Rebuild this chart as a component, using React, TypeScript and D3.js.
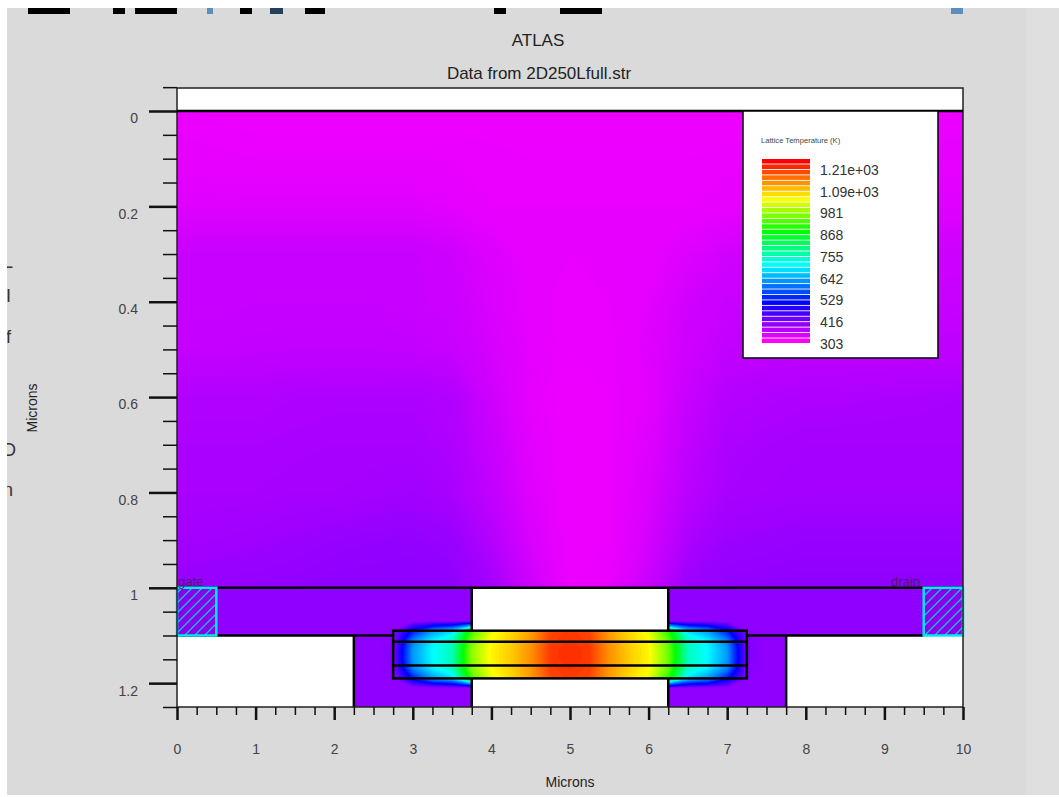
import React, { useEffect, useRef } from 'react';
import * as d3 from 'd3';

const W = 1059;
const H = 797;

// temperature colour ramp
const rampTemps = [303, 493, 684, 856, 1020, 1210];
const rampColors = ['#ff00ff', '#0000ff', '#00ffff', '#00ff00', '#ffff00', '#ff0000'];

const legendTicks = ['1.21e+03', '1.09e+03', '981', '868', '755', '642', '529', '416', '303'];
const legendLevels = [
  1210, 1182, 1155, 1127, 1100, 1072, 1045, 1017, 990, 962, 935, 907, 880, 852, 825, 797, 770,
  742, 715, 687, 660, 632, 605, 577, 550, 522, 495, 467, 440, 412, 385, 357, 330, 303,
];

// upper layer: x = 0..10 step 0.5, y = 0..1 step 0.1
const upperX = [0, 10];
const upperY = [0, 1];
const upperTemps = [
  [318, 317, 316, 316, 316, 316, 316, 316, 316, 316, 316, 316, 316, 316, 316, 316, 316, 316, 316, 317, 318],
  [322, 321, 320, 320, 320, 320, 320, 320, 319, 318, 318, 318, 318, 318, 319, 320, 320, 320, 320, 321, 322],
  [328, 328, 328, 328, 328, 328, 328, 325, 320, 320, 320, 320, 320, 320, 322, 325, 325, 326, 328, 328, 328],
  [345, 345, 345, 345, 345, 345, 345, 340, 330, 322, 320, 322, 322, 330, 338, 342, 342, 342, 342, 342, 342],
  [345, 345, 346, 346, 346, 346, 345, 342, 332, 322, 318, 320, 325, 338, 345, 346, 346, 346, 346, 346, 346],
  [348, 348, 349, 350, 350, 350, 349, 346, 335, 325, 318, 320, 328, 340, 350, 351, 352, 352, 352, 352, 352],
  [362, 362, 362, 364, 365, 365, 365, 362, 340, 322, 316, 318, 325, 345, 360, 363, 365, 365, 366, 367, 368],
  [366, 366, 366, 367, 368, 368, 368, 364, 345, 325, 316, 318, 328, 350, 365, 368, 370, 370, 370, 370, 370],
  [368, 368, 368, 370, 370, 372, 374, 368, 350, 328, 316, 318, 332, 355, 368, 370, 372, 372, 372, 372, 372],
  [372, 374, 376, 379, 382, 384, 385, 380, 360, 332, 316, 318, 335, 365, 378, 380, 382, 382, 382, 382, 382],
  [382, 384, 385, 386, 388, 388, 388, 388, 372, 340, 318, 320, 345, 378, 386, 387, 388, 388, 388, 388, 388],
];

// device layer: x = 2.5..7.5 step 0.25, y = 1.07..1.21 step 0.02
const deviceX = [2.5, 7.5];
const deviceY = [1.07, 1.21];
const edgeRow = [385, 385, 385, 385, 385, 385, 385, 385, 385, 385, 385, 385, 385, 385, 385, 385, 385, 385, 385, 385, 385];
const skinRow = [385, 390, 510, 610, 660, 900, 1010, 1050, 1095, 1160, 1170, 1160, 1095, 1050, 1010, 880, 660, 610, 510, 395, 385];
const outerRow = [385, 395, 590, 675, 725, 940, 1025, 1058, 1100, 1165, 1175, 1165, 1100, 1058, 1025, 920, 725, 675, 590, 400, 385];
const coreRow = [385, 400, 610, 685, 735, 950, 1030, 1062, 1105, 1170, 1180, 1170, 1105, 1062, 1030, 930, 730, 685, 610, 405, 385];
const deviceTemps = [edgeRow, skinRow, outerRow, coreRow, coreRow, outerRow, skinRow, edgeRow];

const xTicks = [0, 1, 2, 3, 4, 5, 6, 7, 8, 9, 10];
const xMinor = [0.25, 0.5, 0.75, 1.25, 1.5, 1.75, 2.25, 2.5, 2.75, 3.25, 3.5, 3.75, 4.25, 4.5, 4.75, 5.25, 5.5, 5.75, 6.25, 6.5, 6.75, 7.25, 7.5, 7.75, 8.25, 8.5, 8.75, 9.25, 9.5, 9.75];
const yTicks = [0, 0.2, 0.4, 0.6, 0.8, 1, 1.2];
const yMinor = [-0.05, 0.05, 0.1, 0.15, 0.25, 0.3, 0.35, 0.45, 0.5, 0.55, 0.65, 0.7, 0.75, 0.85, 0.9, 0.95, 1.05, 1.1, 1.15, 1.25];

// structure outlines, in microns
const regionLines = [
  [[0, 1], [10, 1]],
  [[0, 1.1], [2.75, 1.1]],
  [[7.25, 1.1], [9.5, 1.1]],
  [[2.25, 1.1], [2.25, 1.25]],
  [[7.75, 1.1], [7.75, 1.25]],
  [[3.75, 1], [3.75, 1.09]],
  [[6.25, 1], [6.25, 1.09]],
  [[3.75, 1.19], [3.75, 1.25]],
  [[6.25, 1.19], [6.25, 1.25]],
  [[2.75, 1.113], [7.25, 1.113]],
  [[2.75, 1.163], [7.25, 1.163]],
];

// bits of other windows left in the screenshot
const topScraps = [
  [28, 42, '#000'], [113, 12, '#000'], [135, 42, '#000'], [207, 6, '#5d8fbd'], [240, 12, '#000'],
  [270, 13, '#24405c'], [305, 20, '#000'], [494, 12, '#000'], [560, 42, '#000'], [951, 12, '#5d8fbd'],
];
const sideScraps = [['L', 3, 268], ['I', 6, 302], ['f', 6, 343], ['D', 3, 456], ['n', 3, 496]];

export default function App() {
  const svgRef = useRef<SVGSVGElement | null>(null);

  useEffect(() => {
    const svg = d3.select(svgRef.current);
    svg.selectAll('*').remove();

    const x = d3.scaleLinear().domain([0, 10]).range([177, 963]);
    const y = d3.scaleLinear().domain([0, 1.25]).range([111, 707]);
    const top = y(-0.048);
    const color = d3.scaleLinear<string>().domain(rampTemps).range(rampColors).clamp(true);

    // page background
    svg.append('rect').attr('width', W).attr('height', H).attr('fill', '#fff');
    svg.append('rect').attr('x', 7).attr('y', 8).attr('width', W - 7).attr('height', 787).attr('fill', '#dadada');
    svg.append('rect').attr('x', 1027).attr('y', 8).attr('width', W - 1027).attr('height', 787).attr('fill', '#dfdfdf');

    svg.selectAll('.scrap').data(topScraps).enter().append('rect')
      .attr('class', 'scrap')
      .attr('x', (d) => d[0] as number)
      .attr('y', 8)
      .attr('width', (d) => d[1] as number)
      .attr('height', 6)
      .attr('fill', (d) => d[2] as string);

    const defs = svg.append('defs');
    defs.append('clipPath').attr('id', 'side').append('rect').attr('x', 7).attr('y', 0).attr('width', 10).attr('height', H);
    defs.append('clipPath').attr('id', 'upper').append('rect')
      .attr('x', x(0)).attr('y', y(0)).attr('width', x(10) - x(0)).attr('height', y(1) - y(0));
    const deviceClip = defs.append('clipPath').attr('id', 'device');
    [[2.25, 1, 3.75, 1.25], [6.25, 1, 7.75, 1.25], [2.75, 1.09, 7.25, 1.19]].forEach(([a, b, c, d]) => {
      deviceClip.append('rect').attr('x', x(a)).attr('y', y(b)).attr('width', x(c) - x(a)).attr('height', y(d) - y(b));
    });
    const hatch = defs.append('pattern').attr('id', 'hatch').attr('patternUnits', 'userSpaceOnUse')
      .attr('width', 10).attr('height', 10);
    hatch.append('rect').attr('width', 10).attr('height', 10).attr('fill', '#8a00e8');
    hatch.append('path').attr('d', 'M-2,2 L2,-2 M0,10 L10,0 M8,12 L12,8').attr('stroke', '#10c4f4').attr('stroke-width', 1.3);

    svg.append('g').attr('clip-path', 'url(#side)')
      .selectAll('text').data(sideScraps).enter().append('text')
      .attr('x', (d) => d[1] as number).attr('y', (d) => d[2] as number)
      .attr('font-family', 'Liberation Sans').attr('font-size', 18).attr('fill', '#333')
      .text((d) => d[0] as string);

    // plot area
    svg.append('rect').attr('x', x(0)).attr('y', top).attr('width', x(10) - x(0)).attr('height', y(1.25) - top).attr('fill', '#fff');

    const drawField = (temps: number[][], xr: number[], yr: number[], levels: number[], clip: string) => {
      const n = temps[0].length;
      const m = temps.length;
      const gx = d3.scaleLinear().domain([0.5, n - 0.5]).range(xr);
      const gy = d3.scaleLinear().domain([0.5, m - 0.5]).range(yr);
      const path = d3.geoPath(d3.geoTransform({
        point(px, py) {
          this.stream.point(x(gx(px)), y(gy(py)));
        },
      }));
      const contours = d3.contours().size([n, m]).smooth(true).thresholds(levels)(temps.flat());
      svg.append('g').attr('clip-path', `url(#${clip})`)
        .selectAll('path').data(contours).enter().append('path')
        .attr('d', path as any)
        .attr('fill', (d) => color(d.value));
    };

    // upper layer
    svg.append('rect').attr('x', x(0)).attr('y', y(0)).attr('width', x(10) - x(0)).attr('height', y(1) - y(0)).attr('fill', color(316));
    drawField(upperTemps, upperX, upperY, d3.range(316, 392, 2), 'upper');

    // side blocks and device
    const purple = color(386);
    [[0, 1, 3.75, 1.1], [6.25, 1, 10, 1.1], [2.25, 1.1, 3.75, 1.25], [6.25, 1.1, 7.75, 1.25], [2.75, 1.09, 7.25, 1.19]].forEach(([a, b, c, d]) => {
      svg.append('rect').attr('x', x(a)).attr('y', y(b)).attr('width', x(c) - x(a)).attr('height', y(d) - y(b)).attr('fill', purple);
    });
    drawField(deviceTemps, deviceX, deviceY, d3.range(388, 1200, 6), 'device');

    const line = d3.line().x((d) => x(d[0])).y((d) => y(d[1]));
    svg.append('g').selectAll('path').data(regionLines).enter().append('path')
      .attr('d', (d) => line(d as [number, number][]))
      .attr('fill', 'none').attr('stroke', '#000').attr('stroke-width', 2.5);
    svg.append('rect').attr('x', x(2.75)).attr('y', y(1.09)).attr('width', x(7.25) - x(2.75)).attr('height', y(1.19) - y(1.09))
      .attr('fill', 'none').attr('stroke', '#000').attr('stroke-width', 2.5);

    // electrodes
    [[0, 0.5], [9.5, 10]].forEach(([a, b]) => {
      svg.append('rect').attr('x', x(a)).attr('y', y(1)).attr('width', x(b) - x(a)).attr('height', y(1.1) - y(1))
        .attr('fill', 'url(#hatch)').attr('stroke', '#00e8f0').attr('stroke-width', 2.5);
    });
    svg.append('text').attr('x', x(0) + 1).attr('y', 586).attr('font-family', 'Liberation Sans').attr('font-size', 13).attr('fill', '#4a1a70').text('gate');
    svg.append('text').attr('x', 891).attr('y', 586).attr('font-family', 'Liberation Sans').attr('font-size', 13).attr('fill', '#4a1a70').text('drain');

    // frame
    svg.append('path').attr('d', `M${x(0)},${top}H${x(10)}V${y(1.25)}H${x(0)}Z`).attr('fill', 'none').attr('stroke', '#222').attr('stroke-width', 1.5);
    svg.append('line').attr('x1', x(0)).attr('x2', x(10)).attr('y1', y(0)).attr('y2', y(0)).attr('stroke', '#000').attr('stroke-width', 2.5);

    // axes
    const styleAxis = (g: any, width: number) => {
      g.select('.domain').remove();
      g.selectAll('line').attr('stroke', '#111').attr('stroke-width', width);
      g.selectAll('text').attr('font-family', 'Liberation Sans').attr('font-size', 14).attr('fill', '#444');
    };
    const xMajorAxis = d3.axisBottom(x).tickValues(xTicks).tickSize(13).tickPadding(24).tickFormat((d) => String(d));
    const xMinorAxis = d3.axisBottom(x).tickValues(xMinor).tickSize(8).tickFormat(() => '');
    const yMajorAxis = d3.axisLeft(y).tickValues(yTicks).tickSize(28).tickPadding(11).tickFormat((d) => String(d));
    const yMinorAxis = d3.axisLeft(y).tickValues(yMinor).tickSize(14).tickFormat(() => '');
    svg.append('g').attr('transform', `translate(0,${y(1.25)})`).call(xMinorAxis).call(styleAxis, 1.5);
    svg.append('g').attr('transform', `translate(0,${y(1.25)})`).call(xMajorAxis).call(styleAxis, 2.5);
    svg.append('g').attr('transform', `translate(${x(0)},0)`).call(yMinorAxis).call(styleAxis, 1.5);
    const yMajor = svg.append('g').attr('transform', `translate(${x(0)},0)`).call(yMajorAxis).call(styleAxis, 2.5);
    yMajor.selectAll('text').attr('dy', '0.85em');

    // titles
    const label = (t: string, px: number, py: number, size: number, rotate = false) => {
      svg.append('text')
        .attr('transform', `translate(${px},${py})${rotate ? ' rotate(-90)' : ''}`)
        .attr('text-anchor', 'middle').attr('font-family', 'Liberation Sans')
        .attr('font-size', size).attr('fill', '#222').text(t);
    };
    label('ATLAS', 538, 46, 17);
    label('Data from 2D250Lfull.str', 539, 79, 17);
    label('Microns', 570, 787, 14);
    label('Microns', 37, 408, 14, true);

    // legend
    svg.append('rect').attr('x', 743).attr('y', 111).attr('width', 195).attr('height', 247)
      .attr('fill', '#fff').attr('stroke', '#000').attr('stroke-width', 1.5);
    svg.append('text').attr('x', 761).attr('y', 143).attr('font-family', 'Liberation Sans').attr('font-size', 7.6).attr('fill', '#444')
      .text('Lattice Temperature (K)');
    const band = d3.scaleBand<number>().domain(legendLevels).range([159, 343]).paddingInner(0.16);
    svg.append('g').selectAll('rect').data(legendLevels).enter().append('rect')
      .attr('x', 762).attr('width', 48)
      .attr('y', (d) => band(d) as number)
      .attr('height', band.bandwidth())
      .attr('fill', (d) => color(d));
    const legendY = d3.scalePoint<string>().domain(legendTicks).range([170, 344]);
    svg.append('g').selectAll('text').data(legendTicks).enter().append('text')
      .attr('x', 820)
      .attr('y', (d) => legendY(d) as number)
      .attr('dy', '0.35em')
      .attr('font-family', 'Liberation Sans').attr('font-size', 14).attr('fill', '#333')
      .text((d) => d);
  }, []);

  return <svg ref={svgRef} width={W} height={H} style={{ position: 'absolute', left: 0, top: 0 }} />;
}
